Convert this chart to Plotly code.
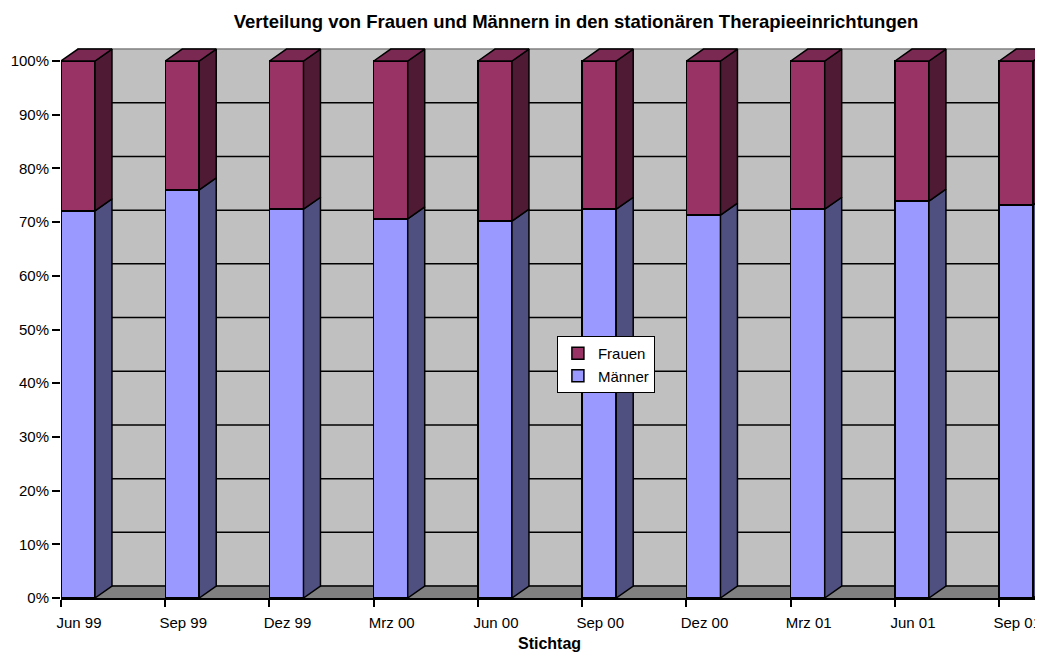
import plotly.graph_objects as go

# Stichtage und Anteile (in %)
stichtage = ['Jun 99', 'Sep 99', 'Dez 99', 'Mrz 00', 'Jun 00',
             'Sep 00', 'Dez 00', 'Mrz 01', 'Jun 01', 'Sep 01']
maenner = [72.1, 76.0, 72.4, 70.6, 70.2, 72.4, 71.3, 72.4, 73.9, 73.2]
frauen = [27.9, 24.0, 27.6, 29.4, 29.8, 27.6, 28.7, 27.6, 26.1, 26.8]
y_ticks = [0, 10, 20, 30, 40, 50, 60, 70, 80, 90, 100]
y_labels = [f'{v}%' for v in y_ticks]

# 3D look
bar_w = 0.326
dx = 0.163
dy = 2.23
x_max = 9.42
y_max = 105.03

col_m = '#9999FF'
col_m_side = '#4F4F80'
col_f = '#993366'
col_f_side = '#4F1A33'
col_f_top = '#7A2952'
font = 'Liberation Sans, Arial, sans-serif'

# page body has an 8px margin
W, H = 1035, 649

xs = list(range(len(stichtage)))

fig = go.Figure()

fig.add_trace(go.Bar(x=xs, y=maenner, name='Männer', width=bar_w, offset=0,
                     marker=dict(color=col_m, line=dict(color='black', width=1.5))))
fig.add_trace(go.Bar(x=xs, y=frauen, name='Frauen', width=bar_w, offset=0,
                     marker=dict(color=col_f, line=dict(color='black', width=1.5))))


def side_faces(bottoms, tops):
    px, py = [], []
    for i, (b, t) in enumerate(zip(bottoms, tops)):
        xr = i + bar_w
        px += [xr, xr + dx, xr + dx, xr, xr, None]
        py += [b, b + dy, t + dy, t, b, None]
    return px, py


sx, sy = side_faces([0] * len(maenner), maenner)
fig.add_trace(go.Scatter(x=sx, y=sy, mode='lines', fill='toself', fillcolor=col_m_side,
                         line=dict(color='black', width=1.5), showlegend=False, hoverinfo='skip'))

tops = [m + f for m, f in zip(maenner, frauen)]
sx, sy = side_faces(maenner, tops)
fig.add_trace(go.Scatter(x=sx, y=sy, mode='lines', fill='toself', fillcolor=col_f_side,
                         line=dict(color='black', width=1.5), showlegend=False, hoverinfo='skip'))

tx, ty = [], []
for i, t in enumerate(tops):
    tx += [i, i + bar_w, i + bar_w + dx, i + dx, i, None]
    ty += [t, t, t + dy, t + dy, t, None]
fig.add_trace(go.Scatter(x=tx, y=ty, mode='lines', fill='toself', fillcolor=col_f_top,
                         line=dict(color='black', width=1.5), showlegend=False, hoverinfo='skip'))

# back wall, floor and wall gridlines
shapes = [
    dict(type='rect', x0=dx, x1=x_max + 1, y0=dy, y1=100 + dy, layer='below',
         fillcolor='#C0C0C0', line=dict(color='#808080', width=1.5)),
    dict(type='path', path=f'M 0 0 L {x_max + 1} 0 L {x_max + 1} {dy} L {dx} {dy} Z',
         layer='below', fillcolor='#808080', line=dict(width=0)),
]
for v in y_ticks[:-1]:
    shapes.append(dict(type='line', x0=dx, x1=x_max + 1, y0=v + dy, y1=v + dy, layer='below',
                       line=dict(color='black', width=1.5)))
shapes.append(dict(type='line', x0=0, x1=0, y0=0, y1=100, line=dict(color='black', width=1.5)))

fig.update_layout(
    width=W, height=H, autosize=False,
    margin=dict(l=53, r=0, t=26, b=59),
    plot_bgcolor='white', paper_bgcolor='white',
    barmode='stack',
    font=dict(family=font, size=15, color='black'),
    title=dict(text='<b>Verteilung von Frauen und Männern in den stationären Therapieeinrichtungen</b>',
               x=568 / W, xref='container', xanchor='center',
               y=1 - 14 / H, yref='container', yanchor='middle',
               font=dict(family=font, size=18.5, color='black')),
    shapes=shapes,
    legend=dict(x=0.505, y=0.4645, xanchor='left', yanchor='top',
                bgcolor='white', bordercolor='black', borderwidth=1,
                itemwidth=30, tracegroupgap=0,
                font=dict(family=font, size=15)),
    annotations=[dict(text='<b>Stichtag</b>', x=0.497, y=-0.0798, xref='paper', yref='paper',
                      showarrow=False, yanchor='middle', font=dict(family=font, size=16))],
)

fig.update_xaxes(range=[0, x_max], tickvals=xs, ticktext=stichtage, ticks='outside',
                 ticklen=7, tickwidth=1.5, tickcolor='black', ticklabelshift=18,
                 ticklabelstandoff=3, automargin=False,
                 showline=True, linecolor='black', linewidth=1.5, showgrid=False, zeroline=False)
fig.update_yaxes(range=[0, y_max], tickvals=y_ticks, ticktext=y_labels, ticks='outside',
                 ticklen=8, tickwidth=1.5, tickcolor='black', showline=False,
                 automargin=False, showgrid=False, zeroline=False)

fig.write_html('out.html')
